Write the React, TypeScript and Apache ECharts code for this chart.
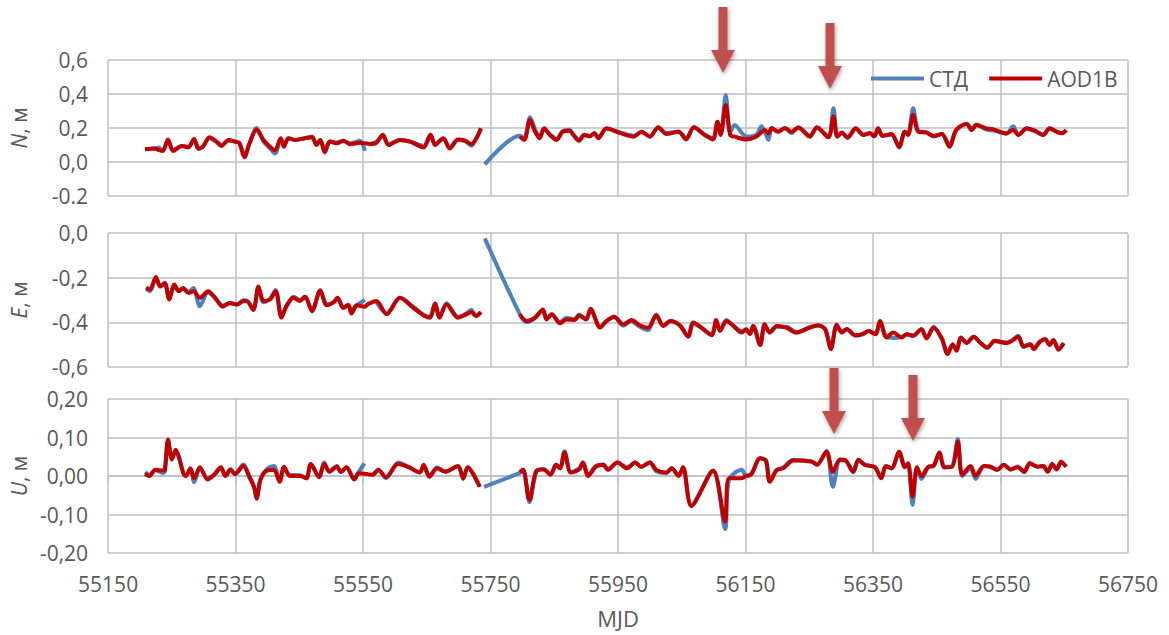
import React, { useEffect, useRef } from 'react';
import * as echarts from 'echarts';

// MJD axis: 55150 … 56750, tick every 200 days
const MJD_ORIGIN = 55150;
const MJD_SPAN = 1600;
const MJD_STEP = 200;
const mjdTickLabels = ['55150', '55350', '55550', '55750', '55950', '56150', '56350', '56550', '56750'];

// Tick labels of the three component axes (bottom to top)
const nTickLabels = ['-0.2', '0,0', '0,2', '0,4', '0,6'];
const eTickLabels = ['-0,6', '-0,4', '-0,2', '0,0'];
const uTickLabels = ['-0,20', '-0,10', '0,00', '0,10', '0,20'];

// ---------- N component ----------
const nMjd = [
  55208, 55221, 55230, 55236, 55244, 55252, 55266, 55276, 55285, 55292,
  55299, 55309, 55320, 55328, 55339, 55349, 55356, 55364, 55372, 55383,
  55394, 55404, 55412, 55421, 55426, 55433, 55443, 55459, 55470, 55477,
  55483, 55490, 55498, 55509, 55519, 55530, 55545, 55553, 55557, 55561,
  55571, 55581, 55590, 55608, 55624, 55645, 55656, 55663, 55676, 55686,
  55699, 55710, 55720, 55728, 55735, 55738, 55741, 55796, 55803, 55812,
  55820, 55827, 55834, 55843, 55854, 55863, 55874, 55880, 55889, 55897,
  55906, 55913, 55919, 55932, 55948, 55974, 55987, 56000, 56013, 56026,
  56045, 56057, 56069, 56086, 56099, 56106, 56111, 56119, 56126, 56133,
  56151, 56167, 56175, 56180, 56186, 56191, 56201, 56212, 56222, 56233,
  56251, 56262, 56280, 56288, 56294, 56301, 56310, 56323, 56335, 56345,
  56352, 56358, 56365, 56379, 56391, 56400, 56405, 56413, 56421, 56434,
  56445, 56458, 56470, 56479, 56486, 56497, 56505, 56512, 56528, 56539,
  56549, 56559, 56570, 56578, 56591, 56604, 56617, 56627, 56638, 56646,
  56653,
];
const nAod = [
  0.075, 0.080, 0.070, 0.065, 0.133, 0.065, 0.094, 0.086, 0.135, 0.080,
  0.090, 0.145, 0.120, 0.094, 0.130, 0.120, 0.110, 0.028, 0.110, 0.190,
  0.130, 0.090, 0.070, 0.140, 0.090, 0.140, 0.130, 0.140, 0.145, 0.100,
  0.130, 0.060, 0.120, 0.110, 0.125, 0.104, 0.113, 0.110, 0.108, 0.106,
  0.113, 0.160, 0.100, 0.130, 0.120, 0.086, 0.160, 0.100, 0.140, 0.080,
  0.133, 0.125, 0.106, 0.140, 0.198, null, null, 0.149, 0.130, 0.247,
  0.178, 0.140, 0.198, 0.159, 0.130, 0.178, 0.184, 0.159, 0.125, 0.159,
  0.153, 0.169, 0.140, 0.198, 0.178, 0.149, 0.178, 0.149, 0.204, 0.165,
  0.178, 0.133, 0.204, 0.159, 0.133, 0.237, 0.159, 0.335, 0.159, 0.149,
  0.133, 0.149, 0.175, 0.188, 0.169, 0.198, 0.178, 0.198, 0.178, 0.202,
  0.149, 0.204, 0.145, 0.267, 0.149, 0.173, 0.145, 0.198, 0.159, 0.169,
  0.153, 0.198, 0.153, 0.165, 0.090, 0.178, 0.159, 0.276, 0.178, 0.173,
  0.153, 0.165, 0.090, 0.178, 0.208, 0.224, 0.188, 0.218, 0.198, 0.192,
  0.178, 0.169, 0.188, 0.159, 0.198, 0.184, 0.159, 0.198, 0.178, 0.169,
  0.188,
];
const nStd = [
  0.075, 0.078, 0.085, 0.065, 0.128, 0.070, 0.094, 0.090, 0.130, 0.075,
  0.090, 0.140, 0.120, 0.100, 0.125, 0.120, 0.115, 0.035, 0.110, 0.200,
  0.120, 0.080, 0.050, 0.135, 0.095, 0.140, 0.130, 0.140, 0.150, 0.105,
  0.130, 0.055, 0.120, 0.115, 0.125, 0.110, 0.125, 0.066, null, 0.106,
  0.118, 0.155, 0.105, 0.130, 0.120, 0.095, 0.160, 0.105, 0.135, 0.085,
  0.130, 0.125, 0.095, 0.140, 0.195, null, -0.014, 0.155, 0.140, 0.263,
  0.190, 0.145, 0.195, 0.165, 0.135, 0.180, 0.190, 0.160, 0.130, 0.160,
  0.150, 0.170, 0.145, 0.195, 0.180, 0.155, 0.175, 0.150, 0.200, 0.170,
  0.180, 0.140, 0.205, 0.160, 0.140, 0.235, 0.165, 0.394, 0.175, 0.218,
  0.150, 0.160, 0.210, 0.180, 0.130, 0.200, 0.180, 0.200, 0.170, 0.205,
  0.155, 0.200, 0.150, 0.316, 0.150, 0.170, 0.140, 0.195, 0.160, 0.170,
  0.150, 0.195, 0.155, 0.160, 0.085, 0.180, 0.165, 0.316, 0.185, 0.175,
  0.150, 0.165, 0.095, 0.180, 0.205, 0.225, 0.190, 0.220, 0.190, 0.185,
  0.175, 0.165, 0.210, 0.160, 0.195, 0.180, 0.160, 0.195, 0.180, 0.170,
  0.185,
];

// ---------- E component ----------
const eMjd = [
  55210, 55216, 55225, 55232, 55239, 55246, 55254, 55261, 55268, 55276,
  55284, 55294, 55307, 55318, 55330, 55341, 55352, 55363, 55368, 55378,
  55386, 55394, 55404, 55413, 55422, 55430, 55441, 55451, 55459, 55470,
  55483, 55493, 55504, 55510, 55519, 55527, 55532, 55540, 55553, 55557,
  55571, 55587, 55608, 55629, 55647, 55655, 55663, 55670, 55681, 55699,
  55712, 55720, 55727, 55735, 55738, 55741, 55796, 55807, 55820, 55832,
  55838, 55846, 55859, 55869, 55882, 55889, 55900, 55907, 55922, 55932,
  55944, 55958, 55971, 55984, 55997, 56010, 56021, 56032, 56047, 56060,
  56068, 56081, 56097, 56104, 56110, 56120, 56131, 56144, 56151, 56157,
  56162, 56173, 56180, 56188, 56199, 56214, 56230, 56251, 56264, 56275,
  56284, 56293, 56301, 56309, 56322, 56333, 56343, 56354, 56361, 56371,
  56382, 56395, 56403, 56413, 56426, 56434, 56445, 56458, 56467, 56475,
  56481, 56488, 56497, 56508, 56518, 56529, 56541, 56560, 56568, 56578,
  56586, 56597, 56602, 56612, 56620, 56627, 56633, 56641, 56649,
];
const eAod = [
  -0.243, -0.253, -0.197, -0.239, -0.224, -0.298, -0.231, -0.261, -0.246, -0.268,
  -0.261, -0.290, -0.261, -0.290, -0.330, -0.313, -0.320, -0.305, -0.305, -0.345,
  -0.239, -0.305, -0.298, -0.261, -0.379, -0.328, -0.290, -0.305, -0.286, -0.350,
  -0.256, -0.324, -0.310, -0.290, -0.335, -0.324, -0.360, -0.324, -0.330, -0.320,
  -0.305, -0.364, -0.290, -0.335, -0.372, -0.379, -0.316, -0.379, -0.320, -0.379,
  -0.364, -0.354, -0.372, -0.354, null, null, -0.364, -0.394, -0.379, -0.342,
  -0.387, -0.364, -0.404, -0.387, -0.390, -0.369, -0.387, -0.339, -0.424, -0.394,
  -0.375, -0.409, -0.390, -0.413, -0.424, -0.369, -0.416, -0.394, -0.413, -0.464,
  -0.401, -0.424, -0.458, -0.390, -0.439, -0.394, -0.416, -0.446, -0.431, -0.453,
  -0.416, -0.502, -0.409, -0.446, -0.416, -0.424, -0.446, -0.424, -0.413, -0.431,
  -0.520, -0.413, -0.446, -0.431, -0.458, -0.453, -0.439, -0.453, -0.394, -0.468,
  -0.446, -0.468, -0.453, -0.460, -0.431, -0.472, -0.424, -0.472, -0.542, -0.498,
  -0.527, -0.468, -0.493, -0.464, -0.490, -0.513, -0.483, -0.493, -0.483, -0.464,
  -0.508, -0.498, -0.520, -0.487, -0.476, -0.502, -0.479, -0.523, -0.493,
];
const eStd = [
  -0.250, -0.260, -0.205, -0.240, -0.225, -0.290, -0.235, -0.260, -0.250, -0.265,
  -0.246, -0.328, -0.265, -0.290, -0.325, -0.315, -0.320, -0.300, -0.305, -0.340,
  -0.245, -0.310, -0.295, -0.255, -0.375, -0.325, -0.285, -0.300, -0.285, -0.345,
  -0.260, -0.320, -0.310, -0.290, -0.335, -0.320, -0.355, -0.325, -0.300, null,
  -0.310, -0.360, -0.290, -0.330, -0.370, -0.375, -0.320, -0.375, -0.315, -0.375,
  -0.360, -0.345, -0.370, -0.355, null, -0.024, -0.364, -0.400, -0.380, -0.345,
  -0.385, -0.365, -0.400, -0.380, -0.385, -0.365, -0.385, -0.345, -0.420, -0.395,
  -0.375, -0.415, -0.395, -0.420, -0.435, -0.365, -0.415, -0.395, -0.415, -0.460,
  -0.405, -0.425, -0.455, -0.395, -0.435, -0.390, -0.415, -0.440, -0.435, -0.450,
  -0.415, -0.500, -0.410, -0.445, -0.420, -0.420, -0.445, -0.420, -0.415, -0.430,
  -0.515, -0.410, -0.440, -0.430, -0.460, -0.455, -0.440, -0.450, -0.395, -0.465,
  -0.470, -0.465, -0.455, -0.460, -0.430, -0.470, -0.420, -0.475, -0.540, -0.500,
  -0.525, -0.470, -0.490, -0.465, -0.490, -0.515, -0.485, -0.490, -0.480, -0.460,
  -0.510, -0.500, -0.515, -0.485, -0.475, -0.500, -0.480, -0.520, -0.495,
];

// ---------- U component ----------
const uMjd = [
  55208, 55215, 55224, 55236, 55239, 55244, 55250, 55256, 55261, 55268,
  55272, 55279, 55285, 55294, 55306, 55316, 55327, 55334, 55342, 55349,
  55362, 55372, 55379, 55383, 55389, 55399, 55410, 55419, 55426, 55435,
  55451, 55461, 55468, 55481, 55489, 55497, 55509, 55515, 55524, 55536,
  55543, 55552, 55556, 55565, 55574, 55586, 55605, 55622, 55639, 55645,
  55654, 55666, 55679, 55699, 55707, 55714, 55733, 55737, 55740, 55796,
  55801, 55811, 55822, 55833, 55844, 55853, 55859, 55866, 55876, 55889,
  55895, 55903, 55915, 55927, 55934, 55949, 55964, 55977, 55986, 56000,
  56010, 56026, 56034, 56045, 56052, 56065, 56099, 56118, 56124, 56144,
  56151, 56159, 56173, 56182, 56188, 56199, 56209, 56225, 56254, 56262,
  56277, 56287, 56298, 56306, 56319, 56327, 56337, 56353, 56363, 56370,
  56379, 56391, 56400, 56405, 56412, 56419, 56426, 56437, 56445, 56454,
  56462, 56474, 56483, 56490, 56503, 56511, 56524, 56534, 56545, 56555,
  56566, 56577, 56587, 56596, 56608, 56617, 56624, 56631, 56638, 56645,
  56653,
];
const uAod = [
  0.005, 0.000, 0.016, 0.014, 0.016, 0.095, 0.043, 0.068, 0.049, 0.007,
  0.000, 0.020, -0.006, 0.023, -0.009, 0.003, 0.023, 0.000, 0.016, 0.005,
  0.026, -0.003, -0.028, -0.058, -0.010, 0.014, 0.016, -0.015, 0.024, 0.000,
  0.000, -0.006, 0.031, -0.003, 0.031, 0.011, 0.024, 0.011, 0.023, -0.009,
  0.007, 0.006, 0.005, 0.003, 0.016, -0.003, 0.031, 0.023, 0.009, 0.029,
  -0.002, 0.020, 0.011, 0.026, -0.006, 0.023, -0.028, null, null, 0.010,
  0.017, -0.062, 0.014, 0.017, 0.003, 0.029, 0.020, 0.061, 0.009, 0.017,
  0.035, 0.000, 0.024, 0.029, 0.016, 0.035, 0.020, 0.035, 0.024, 0.035,
  0.016, 0.009, 0.020, 0.000, 0.023, -0.078, 0.014, -0.119, -0.006, -0.006,
  0.000, 0.005, 0.046, 0.040, -0.015, 0.016, 0.020, 0.040, 0.037, 0.029,
  0.063, 0.011, 0.043, 0.042, 0.011, 0.042, 0.029, 0.023, -0.006, 0.026,
  0.020, 0.063, 0.024, 0.033, -0.054, 0.023, 0.000, 0.024, 0.026, 0.061,
  0.023, 0.024, 0.089, 0.003, 0.026, 0.000, 0.026, 0.024, 0.016, 0.029,
  0.017, 0.023, 0.011, 0.033, 0.024, 0.026, 0.011, 0.031, 0.017, 0.037,
  0.024,
];
const uStd = [
  0.010, 0.003, 0.015, 0.008, 0.012, 0.092, 0.045, 0.065, 0.050, 0.008,
  0.000, 0.018, -0.016, 0.020, -0.005, 0.002, 0.020, 0.000, 0.018, 0.005,
  0.030, -0.005, -0.030, -0.060, -0.008, 0.018, 0.026, -0.012, 0.022, 0.003,
  0.002, -0.005, 0.030, -0.003, 0.035, 0.012, 0.026, 0.010, 0.022, -0.008,
  0.010, 0.033, null, 0.003, 0.015, -0.005, 0.035, 0.022, 0.010, 0.025,
  0.000, 0.022, 0.012, 0.025, -0.008, 0.022, -0.028, null, -0.028, 0.008,
  0.015, -0.068, 0.012, 0.018, 0.005, 0.030, 0.020, 0.064, 0.010, 0.020,
  0.035, 0.002, 0.026, 0.030, 0.018, 0.035, 0.022, 0.035, 0.024, 0.035,
  0.012, 0.008, 0.020, 0.002, 0.022, -0.075, 0.012, -0.138, -0.010, 0.016,
  0.000, 0.003, 0.046, 0.040, -0.012, 0.015, 0.022, 0.042, 0.038, 0.030,
  0.065, -0.028, 0.040, 0.040, 0.010, 0.042, 0.030, 0.022, -0.005, 0.025,
  0.020, 0.060, 0.022, 0.030, -0.075, 0.020, -0.008, 0.024, 0.028, 0.058,
  0.022, 0.025, 0.096, 0.000, 0.020, -0.008, 0.026, 0.024, 0.016, 0.029,
  0.017, 0.025, 0.010, 0.033, 0.025, 0.026, 0.012, 0.030, 0.018, 0.035,
  0.025,
];

const SERIES_STD = 'СТД';
const SERIES_AOD = 'AOD1B';

// ---------- styling ----------
const FONT = '"Open Sans", "Noto Sans", sans-serif';
const TEXT_COLOR = '#595959';
const GRID_COLOR = '#BFBFBF';
const STD_COLOR = '#4F81BD';
const AOD_COLOR = '#C00000';
const ARROW_COLOR = '#C0504D';
const LABEL_SIZE = 21;

const PLOT_LEFT = 108;
const PLOT_WIDTH = 1020;

const panels = [
  { title: 'N', top: 60, height: 136, min: -0.2, max: 0.6, step: 0.2, ticks: nTickLabels, mjd: nMjd, std: nStd, aod: nAod },
  { title: 'E', top: 233, height: 134, min: -0.6, max: 0, step: 0.2, ticks: eTickLabels, mjd: eMjd, std: eStd, aod: eAod },
  { title: 'U', top: 399, height: 154, min: -0.2, max: 0.2, step: 0.1, ticks: uTickLabels, mjd: uMjd, std: uStd, aod: uAod },
];

// Annotation arrows: [centre x, shaft top, head top, tip]
const arrows = [
  [723, 7, 50, 73],
  [830, 23, 66, 89],
  [834, 368, 411, 434],
  [913, 375, 418, 441],
];

function toPairs(mjd: number[], values: (number | null)[]) {
  return mjd.map((m, i) => [m - MJD_ORIGIN, values[i]]);
}

function arrowShape(cx: number, top: number, headTop: number, tip: number) {
  const shaft = 4.5;
  const head = 12;
  return {
    type: 'polygon',
    z: 100,
    shape: {
      points: [
        [cx - shaft, top], [cx + shaft, top], [cx + shaft, headTop], [cx + head, headTop],
        [cx, tip], [cx - head, headTop], [cx - shaft, headTop],
      ],
    },
    style: {
      fill: ARROW_COLOR,
      shadowBlur: 4,
      shadowColor: 'rgba(0,0,0,0.35)',
      shadowOffsetX: 1,
      shadowOffsetY: 2,
    },
  };
}

function buildOption() {
  const grid = panels.map((p) => ({ left: PLOT_LEFT, top: p.top, width: PLOT_WIDTH, height: p.height }));

  const xAxis = panels.map((p, i) => {
    const last = i === panels.length - 1;
    return {
      type: 'value',
      gridIndex: i,
      min: 0,
      max: MJD_SPAN,
      interval: MJD_STEP,
      axisLine: { show: last, lineStyle: { color: GRID_COLOR, width: 1.5 } },
      axisTick: { show: last, length: 7, lineStyle: { color: GRID_COLOR, width: 1.5 } },
      axisLabel: {
        show: last,
        margin: 20,
        fontSize: LABEL_SIZE,
        fontFamily: FONT,
        color: TEXT_COLOR,
        formatter: (v: number) => mjdTickLabels[Math.round(v / MJD_STEP)] ?? '',
      },
      splitLine: { show: true, lineStyle: { color: GRID_COLOR, width: 1.5 } },
      name: last ? 'MJD' : '',
      nameLocation: 'middle',
      nameGap: 54,
      nameTextStyle: { fontSize: 22, fontFamily: FONT, color: TEXT_COLOR },
    };
  });

  const yAxis = panels.map((p, i) => ({
    type: 'value',
    gridIndex: i,
    min: p.min,
    max: p.max,
    interval: p.step,
    axisLine: { show: false },
    axisTick: { show: false },
    axisLabel: {
      margin: 20,
      fontSize: LABEL_SIZE,
      fontFamily: FONT,
      color: TEXT_COLOR,
      formatter: (v: number) => p.ticks[Math.round((v - p.min) / p.step)] ?? '',
    },
    splitLine: { show: true, lineStyle: { color: GRID_COLOR, width: 1.5 } },
    name: `{i|${p.title}}, м`,
    nameLocation: 'middle',
    nameGap: 79,
    nameRotate: 90,
    nameTextStyle: {
      fontSize: LABEL_SIZE,
      fontFamily: FONT,
      color: TEXT_COLOR,
      rich: { i: { fontSize: LABEL_SIZE, fontFamily: FONT, color: TEXT_COLOR, fontStyle: 'italic' } },
    },
  }));

  const series: any[] = [];
  panels.forEach((p, i) => {
    series.push({
      type: 'line',
      name: SERIES_STD,
      xAxisIndex: i,
      yAxisIndex: i,
      data: toPairs(p.mjd, p.std),
      showSymbol: false,
      symbol: 'none',
      smooth: 0.3,
      connectNulls: false,
      lineStyle: { color: STD_COLOR, width: 4 },
      itemStyle: { color: STD_COLOR },
      z: 2,
    });
    series.push({
      type: 'line',
      name: SERIES_AOD,
      xAxisIndex: i,
      yAxisIndex: i,
      data: toPairs(p.mjd, p.aod),
      showSymbol: false,
      symbol: 'none',
      smooth: 0.3,
      connectNulls: false,
      lineStyle: { color: AOD_COLOR, width: 4 },
      itemStyle: { color: AOD_COLOR },
      z: 3,
    });
  });

  return {
    animation: false,
    backgroundColor: '#ffffff',
    textStyle: { fontFamily: FONT },
    grid,
    xAxis,
    yAxis,
    legend: {
      data: [SERIES_STD, SERIES_AOD],
      left: 871,
      top: 68,
      padding: 0,
      icon: 'rect',
      itemWidth: 53,
      itemHeight: 4,
      itemGap: 21,
      textStyle: { fontSize: LABEL_SIZE, fontFamily: FONT, color: TEXT_COLOR },
    },
    series,
    graphic: arrows.map(([cx, top, headTop, tip]) => arrowShape(cx, top, headTop, tip)),
  };
}

export default function App() {
  const ref = useRef<HTMLDivElement>(null);
  useEffect(() => {
    const chart = echarts.init(ref.current!, undefined, { renderer: 'svg' });
    chart.setOption(buildOption() as any);
    return () => chart.dispose();
  }, []);
  return (
    <div
      ref={ref}
      style={{ position: 'absolute', left: 0, top: 0, width: 1169, height: 635, background: '#ffffff' }}
    />
  );
}
